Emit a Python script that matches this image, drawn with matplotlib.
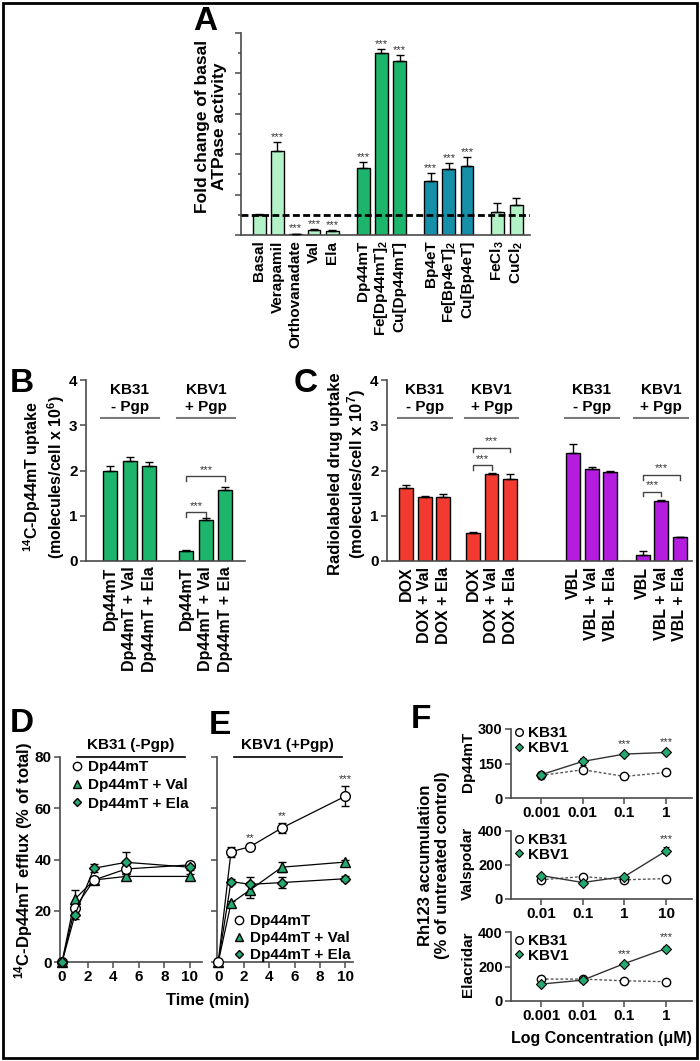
import matplotlib
matplotlib.use('Agg')
import matplotlib.pyplot as plt
from matplotlib.lines import Line2D
from matplotlib.patches import Rectangle

plt.rcParams['font.family'] = ['Liberation Sans', 'DejaVu Sans']
plt.rcParams['font.weight'] = 'bold'
plt.rcParams['axes.labelweight'] = 'bold'
plt.rcParams['mathtext.fontset'] = 'custom'
plt.rcParams['mathtext.rm'] = 'Liberation Sans:bold'
plt.rcParams['mathtext.bf'] = 'Liberation Sans:bold'
plt.rcParams['mathtext.it'] = 'Liberation Sans:bold'

# ---------------- data ----------------
a_labels = ['Basal', 'Verapamil', 'Orthovanadate', 'Val', 'Ela', 'Dp44mT', 'Fe[Dp44mT]$_2$',
            'Cu[Dp44mT]', 'Bp4eT', 'Fe[Bp4eT]$_2$', 'Cu[Bp4eT]', 'FeCl$_3$', 'CuCl$_2$']
a_values = [1.0, 4.15, 0.05, 0.25, 0.2, 3.3, 9.0, 8.6, 2.65, 3.25, 3.4, 1.15, 1.5]
a_errors = [0.05, 0.45, 0.02, 0.05, 0.05, 0.3, 0.2, 0.3, 0.4, 0.3, 0.45, 0.45, 0.35]
a_sig = ['', '***', '***', '***', '***', '***', '***', '***', '***', '***', '***', '', '']
a_group = ['light'] * 5 + ['green'] * 3 + ['teal'] * 3 + ['light'] * 2

b_labels = ['Dp44mT', 'Dp44mT + Val', 'Dp44mT + Ela'] * 2
b_values = [2.0, 2.2, 2.1, 0.23, 0.91, 1.58]
b_errors = [0.1, 0.1, 0.08, 0.02, 0.03, 0.05]

c_labels = ['DOX', 'DOX + Val', 'DOX + Ela'] * 2 + ['VBL', 'VBL + Val', 'VBL + Ela'] * 2
c_values = [1.62, 1.42, 1.42, 0.62, 1.92, 1.82, 2.38, 2.04, 1.97, 0.14, 1.33, 0.53]
c_errors = [0.07, 0.02, 0.07, 0.02, 0.02, 0.1, 0.2, 0.04, 0.03, 0.08, 0.01, 0.01]
c_group = ['dox'] * 6 + ['vbl'] * 6

time_min = [0, 1, 2.5, 5, 10]
d_dp44mt = [0, 21, 32, 36.3, 37.9]
d_dp44mt_err = [0, 2, 1, 2, 1]
d_val = [0, 24.5, 32, 33.4, 33.4]
d_val_err = [0, 3.5, 1, 1, 1]
d_ela = [0, 18.3, 36.6, 38.9, 37]
d_ela_err = [0, 1.5, 1.5, 4, 1]

e_dp44mt = [0, 43, 45, 52.3, 64.7]
e_dp44mt_err = [0, 2, 1, 2, 4]
e_val = [0, 22.9, 28.1, 37, 39]
e_val_err = [0, 1, 3, 2, 1]
e_ela = [0, 31.4, 30.3, 31, 32.5]
e_ela_err = [0, 1, 3, 2, 1]
e_sig = ['', '', '**', '**', '***']

f_names = ['Dp44mT', 'Valspodar', 'Elacridar']
f_conc = [[0.001, 0.01, 0.1, 1], [0.01, 0.1, 1, 10], [0.001, 0.01, 0.1, 1]]
f_ticklabels = [['0.001', '0.01', '0.1', '1'], ['0.01', '0.1', '1', '10'], ['0.001', '0.01', '0.1', '1']]
f_kb31 = [[98, 123, 94, 111], [113, 132, 113, 120], [127, 127, 117, 112]]
f_kb31_err = [[15, 8, 12, 5], [8, 5, 5, 5], [5, 5, 5, 5]]
f_kbv1 = [[101, 159, 191, 198], [138, 97, 132, 283], [98, 121, 217, 304]]
f_kbv1_err = [[10, 15, 6, 6], [10, 5, 8, 20], [5, 8, 8, 15]]
f_sig = [['', '', '***', '***'], ['', '', '', '***'], ['', '', '***', '***']]
f_ymax = [300, 400, 400]
f_yticks = [[0, 150, 300], [0, 200, 400], [0, 200, 400]]

# ---------------- style ----------------
LIGHT = '#b3f2c7'
GREEN = '#1db46b'
TEAL = '#1590a8'
RED = '#f23a31'
PURPLE = '#b41ce0'
MGREEN = '#25a971'
SPINE = '#4a4a4a'
GRAYLINE = '#7a7a7a'

W, H = 700, 1061
fig = plt.figure(figsize=(7, 10.61), dpi=100)


def axpx(l, t, r, b):
    return fig.add_axes([l / W, 1 - b / H, (r - l) / W, (b - t) / H])


def ftext(x, y, s, **kw):
    fig.text(x / W, 1 - y / H, s, **kw)


def style(ax, lsize=11):
    for s in ['top', 'right']:
        ax.spines[s].set_visible(False)
    for s in ['left', 'bottom']:
        ax.spines[s].set_color(SPINE)
        ax.spines[s].set_linewidth(1.2)
    ax.tick_params(colors=SPINE, labelcolor='black', width=1.1, length=4, labelsize=lsize, pad=2)
    ax.patch.set_alpha(0)


def stars(ax, x, y, s, off=1.5, size=8):
    ax.annotate(s, xy=(x, y), xytext=(0, off), textcoords='offset points',
                ha='center', va='baseline', fontsize=size, color='#333333',
                fontweight='normal', annotation_clip=False)


def header(ax, x0, x1, y_line, y1, y2, t1, t2):
    ax.plot([x0, x1], [y_line, y_line], color=GRAYLINE, lw=1.5, clip_on=False)
    ax.text((x0 + x1) / 2, y1, t1, ha='center', va='center', fontsize=11)
    ax.text((x0 + x1) / 2, y2, t2, ha='center', va='center', fontsize=11)


def bracket(ax, x0, x1, y, h):
    ax.plot([x0, x0, x1, x1], [y - h, y, y, y - h], color='#444444', lw=1, clip_on=False)
    stars(ax, (x0 + x1) / 2, y, '***', off=2.5)


def bars(ax, pos, vals, errs, colors, width):
    ax.bar(pos, vals, width=width, color=colors, edgecolor='black', linewidth=1, zorder=2)
    ax.errorbar(pos, vals, yerr=[[0] * len(vals), errs], fmt='none', ecolor='black',
                elinewidth=1, capsize=3, capthick=1, zorder=3)

# ---------------- Panel A ----------------
axA = axpx(241, 33, 530, 235)
style(axA)
a_pos = [0, 1, 2, 3, 4, 5.7, 6.7, 7.7, 9.4, 10.4, 11.4, 13.05, 14.1]
cmap = {'light': LIGHT, 'green': GREEN, 'teal': TEAL}
bars(axA, a_pos, a_values, a_errors, [cmap[g] for g in a_group], 0.7)
axA.axhline(1, color='black', lw=2, ls=(0, (2.5, 1.2)), zorder=4)
for p, v, e, s in zip(a_pos, a_values, a_errors, a_sig):
    if s:
        stars(axA, p, v + e, s)
axA.set_xlim(-1, 14.85)
axA.set_ylim(0, 10)
axA.set_yticks(range(0, 11, 2))
axA.set_yticks(range(1, 10, 2), minor=True)
axA.set_yticklabels([])
axA.tick_params(axis='y', which='minor', length=2.5, color=SPINE, width=1.1)
axA.set_xticks(a_pos, a_labels, rotation=90, fontsize=11)
axA.tick_params(axis='x', length=0, pad=4)
ftext(211, 126, 'Fold change of basal\nATPase activity', rotation=90, ha='center', va='center',
      ma='center', fontsize=12.5, linespacing=1.15)

# ---------------- Panel B ----------------
axB = axpx(86, 380, 245, 561)
style(axB)
b_pos = [0, 1, 2, 3.9, 4.9, 5.9]
bars(axB, b_pos, b_values, b_errors, GREEN, 0.72)
axB.set_xlim(-1.23, 6.9)
axB.set_ylim(0, 4)
axB.set_yticks(range(0, 5))
axB.set_xticks(b_pos, b_labels, rotation=90, fontsize=11.5)
axB.tick_params(axis='x', length=0, pad=4)
header(axB, b_pos[0] - 0.46, b_pos[2] + 0.48, 3.16, 3.78, 3.40, 'KB31', '- Pgp')
header(axB, b_pos[3] - 0.46, b_pos[5] + 0.48, 3.16, 3.78, 3.40, 'KBV1', '+ Pgp')
bracket(axB, b_pos[3], b_pos[4], 1.08, 0.1)
bracket(axB, b_pos[3], b_pos[5], 1.87, 0.1)
ftext(44, 477, '$^{14}$C-Dp44mT uptake\n(molecules/cell x 10$^{6}$)', rotation=90, ha='center',
      va='center', ma='center', fontsize=11.5, linespacing=1.1)

# ---------------- Panel C ----------------
axC = axpx(387, 380, 692, 561)
style(axC)
c_pos = [0, 1, 2, 3.6, 4.6, 5.6, 9, 10, 11, 12.75, 13.75, 14.75]
ccol = {'dox': RED, 'vbl': PURPLE}
bars(axC, c_pos, c_values, c_errors, [ccol[g] for g in c_group], 0.75)
axC.set_xlim(-1.03, 15.4)
axC.set_ylim(0, 4)
axC.set_yticks(range(0, 5))
axC.set_xticks(c_pos, c_labels, rotation=90, fontsize=11.5)
axC.tick_params(axis='x', length=0, pad=4)
for i, (t1, t2) in zip([0, 3, 6, 9], [('KB31', '- Pgp'), ('KBV1', '+ Pgp'),
                                     ('KB31', '- Pgp'), ('KBV1', '+ Pgp')]):
    header(axC, c_pos[i] - 0.45, c_pos[i + 2] + 0.45, 3.16, 3.78, 3.40, t1, t2)
bracket(axC, c_pos[3], c_pos[4], 2.12, 0.1)
bracket(axC, c_pos[3], c_pos[5], 2.50, 0.1)
bracket(axC, c_pos[9], c_pos[10], 1.53, 0.1)
bracket(axC, c_pos[9], c_pos[11], 1.90, 0.1)
ftext(348, 474, 'Radiolabeled drug uptake\n(molecules/cell x 10$^{7}$)', rotation=90, ha='center',
      va='center', ma='center', fontsize=12, linespacing=1.1)

# ---------------- Panels D & E ----------------
MS_O, MS_T, MS_D = 7, 6.5, 5.2


def efflux(ax, series):
    for vals, errs, mk, fc, ms in series:
        ax.errorbar(time_min, vals, yerr=errs, fmt='-', color='black', lw=0.9,
                    elinewidth=1, capsize=3, capthick=1, marker=mk, mfc=fc, mec='black',
                    mew=1, ms=ms, clip_on=False, zorder=3)
    ax.set_ylim(0, 80)
    ax.set_yticks([0, 20, 40, 60, 80])
    ax.set_xticks([0, 2, 4, 6, 8, 10])


def mk_handles():
    return [Line2D([], [], ls='none', marker='o', mfc='white', mec='black', ms=MS_O - 1, mew=1),
            Line2D([], [], ls='none', marker='^', mfc=MGREEN, mec='black', ms=MS_T - 1, mew=1),
            Line2D([], [], ls='none', marker='D', mfc=MGREEN, mec='black', ms=MS_D - 0.7, mew=1)]

leg_labels = ['Dp44mT', 'Dp44mT + Val', 'Dp44mT + Ela']

axD = axpx(60, 757, 202, 962)
style(axD)
efflux(axD, [(d_val, d_val_err, '^', MGREEN, MS_T),
             (d_dp44mt, d_dp44mt_err, 'o', 'white', MS_O),
             (d_ela, d_ela_err, 'D', MGREEN, MS_D)])
axD.set_xlim(-0.16, 10.94)
axD.legend(mk_handles(), leg_labels, loc='upper left', bbox_to_anchor=(0.08, 0.985),
           frameon=False, fontsize=11, handlelength=0.7, handletextpad=0.4,
           labelspacing=0.28, borderpad=0, borderaxespad=0)
axD.plot([1.2, 9.6], [80, 80], color='black', lw=1.2, clip_on=False)
axD.text(5.4, 84.5, 'KB31 (-Pgp)', ha='center', va='center', fontsize=11)

axE = axpx(217, 757, 353, 962)
style(axE)
efflux(axE, [(e_val, e_val_err, '^', MGREEN, MS_T),
             (e_ela, e_ela_err, 'D', MGREEN, MS_D),
             (e_dp44mt, e_dp44mt_err, 'o', 'white', MS_O)])
axE.set_xlim(-0.1, 10.6)
axE.set_yticklabels([])
for t, v, e, s in zip(time_min, e_dp44mt, e_dp44mt_err, e_sig):
    if s:
        stars(axE, t, v + e, s, off=2.5)
axE.legend(mk_handles(), leg_labels, loc='lower left', bbox_to_anchor=(0.12, 0.0),
           frameon=False, fontsize=11, handlelength=0.7, handletextpad=0.4,
           labelspacing=0.18, borderpad=0, borderaxespad=0)
axE.plot([1.2, 9.7], [80, 80], color='black', lw=1.2, clip_on=False)
axE.text(5.45, 84.5, 'KBV1 (+Pgp)', ha='center', va='center', fontsize=11)

ftext(24, 860, '$^{14}$C-Dp44mT efflux (% of total)', rotation=90, ha='center', va='center',
      fontsize=12)
ftext(208, 1000, 'Time (min)', ha='center', va='center', fontsize=12)

# ---------------- Panel F ----------------
f_boxes = [(511, 729, 692, 798), (511, 831, 692, 899), (511, 932, 692, 1001)]
f_xlims = [(10 ** -3.72, 10 ** 0.62), (10 ** -2.72, 10 ** 1.62), (10 ** -3.72, 10 ** 0.62)]
for k in range(3):
    ax = axpx(*f_boxes[k])
    style(ax, lsize=10.5)
    ax.set_xscale('log')
    ax.errorbar(f_conc[k], f_kb31[k], yerr=f_kb31_err[k], fmt='o', ls=(0, (2, 1.5)),
                color='#555555', lw=1, mfc='white', mec='black', mew=1, ms=6,
                ecolor='black', elinewidth=1, capsize=2.5, clip_on=False, zorder=3)
    ax.errorbar(f_conc[k], f_kbv1[k], yerr=f_kbv1_err[k], fmt='D-', color='#333333', lw=1,
                mfc=MGREEN, mec='black', mew=0.8, ms=4.8, ecolor='black', elinewidth=1,
                capsize=2.5, clip_on=False, zorder=4)
    for x, v, e, s in zip(f_conc[k], f_kbv1[k], f_kbv1_err[k], f_sig[k]):
        if s:
            stars(ax, x, v + e, s, off=4)
    ax.set_xlim(*f_xlims[k])
    ax.set_ylim(0, f_ymax[k])
    ax.set_yticks(f_yticks[k])
    ax.set_xticks(f_conc[k], f_ticklabels[k])
    ax.tick_params(axis='x', labelsize=11)
    ax.minorticks_off()
    ax.legend([Line2D([], [], ls='none', marker='o', mfc='white', mec='black', ms=5.5, mew=1),
               Line2D([], [], ls='none', marker='D', mfc=MGREEN, mec='black', ms=4.5, mew=0.8)],
              ['KB31', 'KBV1'], loc='upper left', bbox_to_anchor=(0.02, 1.04 if k == 0 else 0.97),
              frameon=False, fontsize=11, handlelength=0.6, handletextpad=0.3,
              labelspacing=0.05, borderpad=0, borderaxespad=0)
    cy = (f_boxes[k][1] + f_boxes[k][3]) / 2
    ftext(468, cy - 2, f_names[k], rotation=90, ha='center', va='center', fontsize=11)

ftext(434, 865, 'Rh123 accumulation\n(% of untreated control)', rotation=90, ha='center',
      va='center', ma='center', fontsize=12, linespacing=1.15)
ftext(601, 1038, 'Log Concentration (μM)', ha='center', va='center', fontsize=11.5)

# ---------------- panel letters & frame ----------------
for letter, x, y in [('A', 205, 21), ('B', 22, 383), ('C', 306, 384),
                     ('D', 22, 724), ('E', 220, 726), ('F', 421, 720)]:
    ftext(x, y, letter, ha='center', va='center', fontsize=24)

fig.patches.append(Rectangle((3 / W, 3 / H), 694 / W, 1055 / H, transform=fig.transFigure,
                             fill=False, lw=2, ec='black'))

fig.savefig('out.png', dpi=100)
